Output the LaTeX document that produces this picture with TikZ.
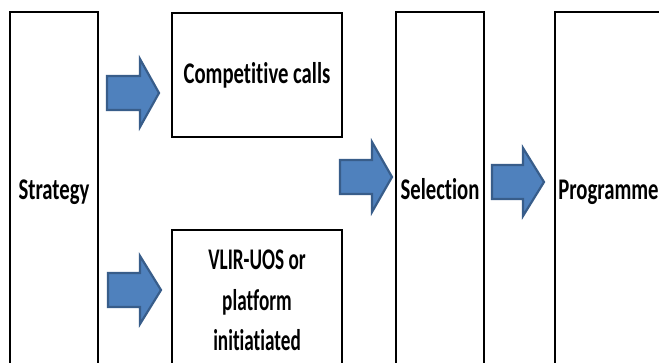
\documentclass[tikz,border=0pt]{standalone}
\usepackage{fontspec}
\setmainfont{Carlito}[Ligatures={NoCommon}]
\usepackage{graphicx}
\definecolor{arrowfill}{HTML}{4F81BD}
\definecolor{arrowline}{HTML}{385D8A}
\newcommand{\lblx}[2]{\scalebox{#1}[1]{\bfseries\fontsize{30}{40.5}\selectfont\begin{tabular}{@{}c@{}}#2\end{tabular}}}
\newcommand{\lbl}[1]{\lblx{0.69}{#1}}
\newcommand{\blockarrow}[6]{%
  \draw[barrow] (#1,#4-#5) -- (#3,#4-#5) -- (#3,#4-#6) -- (#2,#4) -- (#3,#4+#6) -- (#3,#4+#5) -- (#1,#4+#5) -- cycle;}
\tikzset{
  box/.style={draw=black, line width=2pt, rectangle, inner sep=0pt, align=center},
  barrow/.style={fill=arrowfill, draw=arrowline, line width=2.2pt, line join=miter}
}
\begin{document}
\begin{tikzpicture}[x=1pt,y=-1pt]
\useasboundingbox (0,0) rectangle (659,362);
\clip (0,0) rectangle (659,362);
\fill[white] (0,0) rectangle (659,362);
\node[box, minimum width=88pt, minimum height=358pt] (strat) at (54,191) {\lbl{Strategy}};
\node[box, minimum width=170pt, minimum height=124pt] (comp) at (257,75) {\lbl{Competitive calls}};
\node[box, minimum width=170pt, minimum height=144pt] (vlir) at (257,302) {\lblx{0.64}{VLIR-UOS or\\platform\\initiatiated}};
\node[box, minimum width=88pt, minimum height=358pt] (sel) at (440,191) {\lbl{Selection}};
\node[box, minimum width=107pt, minimum height=358pt] (prog) at (608.5,191) {\lbl{Programme}};
\blockarrow{107}{159}{140}{93}{17}{34}
\blockarrow{108}{161}{140}{290}{17}{34}
\blockarrow{340}{392}{372}{177}{17}{35}
\blockarrow{492}{544}{523}{182}{17}{34}
\end{tikzpicture}
\end{document}
